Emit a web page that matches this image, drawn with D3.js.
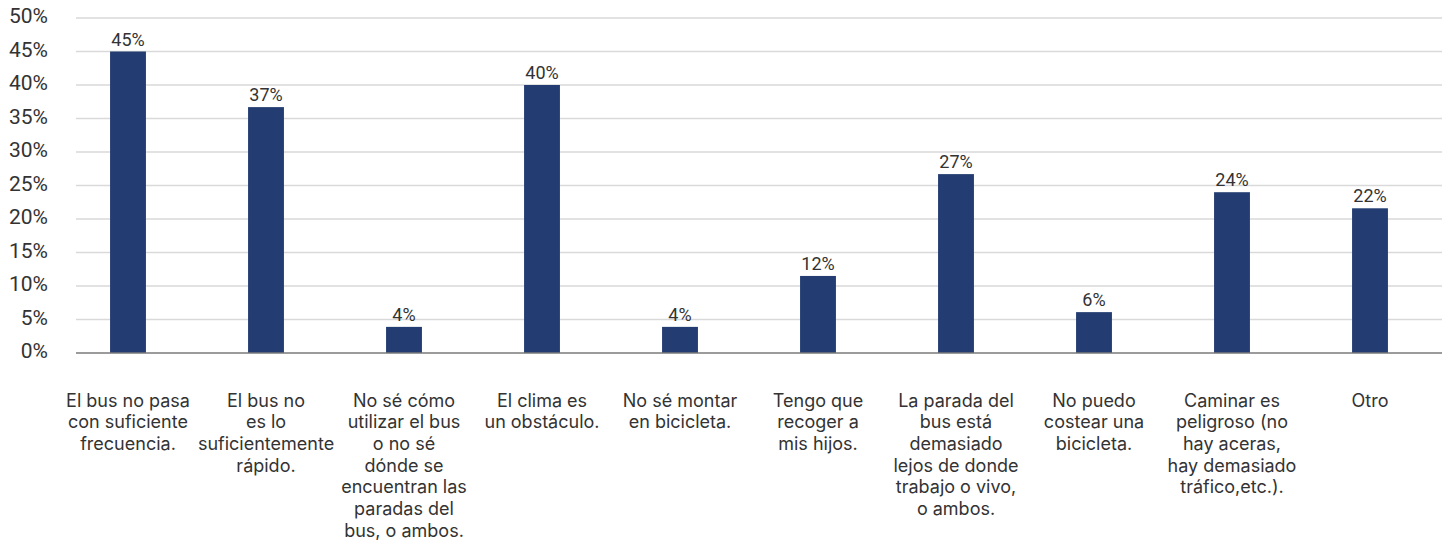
<!DOCTYPE html>
<html>
<head>
<meta charset="utf-8">
<script src="https://cdn.jsdelivr.net/npm/d3@7"></script>
<style>
  body { margin: 0; background: #fff; }
  svg text { fill: #333; }
</style>
</head>
<body>
<div id="chart"></div>
<script>
var width = 1448,
    height = 544;

// data
var categories = [
  "El bus no pasa\ncon suficiente\nfrecuencia.",
  "El bus no\nes lo\nsuficientemente\nrápido.",
  "No sé cómo\nutilizar el bus\no no sé\ndónde se\nencuentran las\nparadas del\nbus, o ambos.",
  "El clima es\nun obstáculo.",
  "No sé montar\nen bicicleta.",
  "Tengo que\nrecoger a\nmis hijos.",
  "La parada del\nbus está\ndemasiado\nlejos de donde\ntrabajo o vivo,\no ambos.",
  "No puedo\ncostear una\nbicicleta.",
  "Caminar es\npeligroso (no\nhay aceras,\nhay demasiado\ntráfico,etc.).",
  "Otro"
];
var values = [45, 36.7, 3.9, 40, 3.9, 11.5, 26.7, 6.1, 24.0, 21.6];
var valueLabels = ["45%", "37%", "4%", "40%", "4%", "12%", "27%", "6%", "24%", "22%"];
var yTicks = [0, 5, 10, 15, 20, 25, 30, 35, 40, 45, 50];

var svg = d3.select("#chart").append("svg")
    .attr("width", width)
    .attr("height", height);

var x = d3.scaleBand()
    .domain(d3.range(categories.length))
    .range([59, 1439])
    .paddingInner(0.74)
    .paddingOuter(0.37);

var y = d3.scaleLinear()
    .domain([0, 50])
    .range([353, 18]);

// gridlines
svg.append("g")
  .selectAll("line")
  .data(yTicks.slice(1))
  .enter().append("line")
    .attr("x1", 76)
    .attr("x2", 1442)
    .attr("y1", function(d) { return y(d); })
    .attr("y2", function(d) { return y(d); })
    .attr("stroke", "#d9d9d9")
    .attr("stroke-width", 1.3);

// y tick labels
var yAxis = svg.append("g")
    .attr("transform", "translate(48,-2)")
    .call(d3.axisLeft(y).tickValues(yTicks).tickSize(0).tickPadding(0)
      .tickFormat(function(d) { return d + "%"; }));
yAxis.select(".domain").remove();
yAxis.selectAll("text")
    .attr("font-family", "Roboto, sans-serif")
    .attr("font-size", "21px")
    .attr("fill", "#333");

// bars
svg.append("g")
  .selectAll("rect")
  .data(values)
  .enter().append("rect")
    .attr("x", function(d, i) { return x(i); })
    .attr("width", x.bandwidth())
    .attr("y", function(d) { return y(d); })
    .attr("height", function(d) { return y(0) - y(d); })
    .attr("fill", "#233d72");

// baseline
svg.append("line")
    .attr("x1", 76)
    .attr("x2", 1442)
    .attr("y1", y(0))
    .attr("y2", y(0))
    .attr("stroke", "#7a7a7a")
    .attr("stroke-width", 1.5);

// value labels
svg.append("g")
  .selectAll("text")
  .data(values)
  .enter().append("text")
    .attr("x", function(d, i) { return x(i) + x.bandwidth() / 2; })
    .attr("y", function(d) { return y(d) - 6; })
    .attr("text-anchor", "middle")
    .attr("font-family", "Roboto, sans-serif")
    .attr("font-size", "18px")
    .text(function(d, i) { return valueLabels[i]; });

// category labels
var cat = svg.append("g")
  .selectAll("text")
  .data(categories)
  .enter().append("text")
    .attr("x", function(d, i) { return x(i) + x.bandwidth() / 2; })
    .attr("y", 406.5)
    .attr("text-anchor", "middle")
    .attr("font-family", "Inter, sans-serif")
    .attr("font-size", "18px");

cat.each(function(d) {
  var t = d3.select(this);
  var cx = t.attr("x");
  d.split("\n").forEach(function(line, j) {
    t.append("tspan")
      .attr("x", cx)
      .attr("dy", j === 0 ? 0 : 21.7)
      .text(line);
  });
});
</script>
</body>
</html>
